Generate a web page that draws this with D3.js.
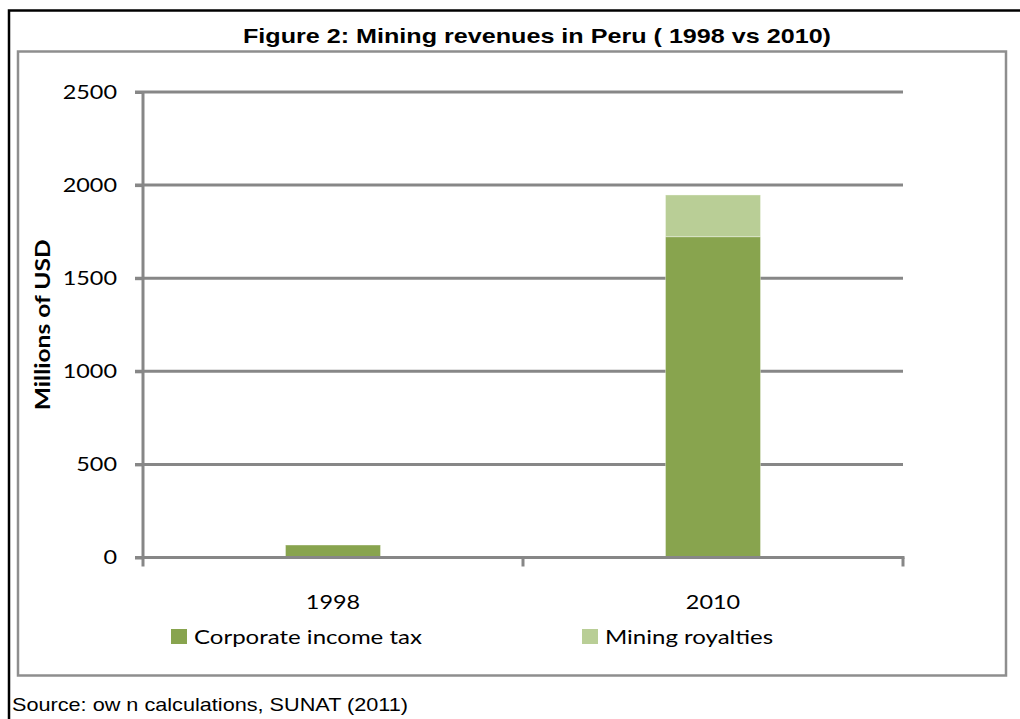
<!DOCTYPE html>
<html>
<head>
<meta charset="utf-8">
<script src="https://cdn.jsdelivr.net/npm/d3@7.9.0/dist/d3.min.js"></script>
<style>
  body { margin: 0; background: #fff; }
  svg { display: block; }
</style>
</head>
<body>
<div id="chart"></div>
<script>
// data (millions of USD)
const years = ["1998", "2010"];
const corporateIncomeTax = [67, 1723];
const miningRoyalties = [0, 224];
const seriesNames = ["Corporate income tax", "Mining royalties"];
const seriesColors = ["#88a44e", "#b9ce96"];
const yTicks = [0, 500, 1000, 1500, 2000, 2500];

const width = 1020;
const height = 719;

// plot area
const plot = { left: 143, right: 903, top: 92, bottom: 557.5 };

const svg = d3.select("#chart")
    .append("svg")
    .attr("width", width)
    .attr("height", height);

// widen text a bit, the original glyphs are wider than Lato's
function stretch(sel, factor) {
    sel.each(function () {
        const w = this.getComputedTextLength();
        d3.select(this)
            .attr("textLength", w * factor)
            .attr("lengthAdjust", "spacingAndGlyphs");
    });
}

// outer black frame
svg.append("rect")
    .attr("x", 9).attr("y", 10.5)
    .attr("width", width + 20).attr("height", height + 20)
    .attr("fill", "none")
    .attr("stroke", "#000")
    .attr("stroke-width", 2.5);

// chart area frame
svg.append("rect")
    .attr("x", 18).attr("y", 51.5)
    .attr("width", 988).attr("height", 624)
    .attr("fill", "#fff")
    .attr("stroke", "#8e8e8e")
    .attr("stroke-width", 2.5);

// title
svg.append("text")
    .attr("x", 537).attr("y", 43)
    .attr("text-anchor", "middle")
    .attr("font-family", "Liberation Sans, Arial, sans-serif")
    .attr("font-weight", "bold")
    .attr("font-size", 21)
    .attr("textLength", 588)
    .attr("lengthAdjust", "spacingAndGlyphs")
    .text("Figure 2: Mining revenues in Peru ( 1998 vs 2010)");

// scales
const x = d3.scaleBand()
    .domain(years)
    .range([plot.left, plot.right])
    .paddingInner(0.75)
    .paddingOuter(0.375);

const xCat = d3.scaleBand()
    .domain(years)
    .range([plot.left, plot.right]);

const y = d3.scaleLinear()
    .domain([0, 2500])
    .range([plot.bottom, plot.top]);

const gray = "#878787";

// gridlines
svg.append("g")
    .selectAll("line")
    .data(yTicks.filter(d => d > 0))
    .join("line")
    .attr("x1", plot.left - 8)
    .attr("x2", plot.right)
    .attr("y1", d => y(d))
    .attr("y2", d => y(d))
    .attr("stroke", gray)
    .attr("stroke-width", 3);

// stacked bars
const rows = years.map((yr, i) => ({ year: yr, cit: corporateIncomeTax[i], roy: miningRoyalties[i] }));
const stack = d3.stack().keys(["cit", "roy"])(rows);

svg.append("g")
    .selectAll("g")
    .data(stack)
    .join("g")
    .attr("fill", (d, i) => seriesColors[i])
    .selectAll("rect")
    .data(d => d.filter(v => v[1] > v[0]))
    .join("rect")
    .attr("x", d => x(d.data.year))
    .attr("width", x.bandwidth())
    .attr("y", d => y(d[1]))
    .attr("height", d => y(d[0]) - y(d[1]))
    .attr("stroke", "#ffffff")
    .attr("stroke-opacity", 0.35)
    .attr("stroke-width", 1);

// y axis
const yAxis = svg.append("g")
    .attr("transform", `translate(${plot.left},0)`)
    .call(d3.axisLeft(y).tickValues(yTicks).tickSize(8).tickPadding(18).tickFormat(d3.format("d")));
yAxis.select(".domain").attr("stroke", gray).attr("stroke-width", 3)
    .attr("d", `M0,${plot.top - 1}V${plot.bottom}`);
yAxis.selectAll(".tick line").attr("stroke", gray).attr("stroke-width", 3);
yAxis.selectAll(".tick text")
    .attr("font-family", "Lato, sans-serif")
    .attr("font-size", 20)
    .attr("fill", "#000")
    .call(stretch, 1.17);

// x axis
const xAxisG = svg.append("g")
    .attr("transform", `translate(0,${plot.bottom})`);
xAxisG.append("line")
    .attr("x1", plot.left - 8).attr("x2", plot.right + 1.5)
    .attr("stroke", gray).attr("stroke-width", 3);
const boundaries = years.map(d => xCat(d)).concat([plot.right]);
xAxisG.selectAll(".xtick")
    .data(boundaries)
    .join("line")
    .attr("class", "xtick")
    .attr("x1", d => d).attr("x2", d => d)
    .attr("y1", 0).attr("y2", 9)
    .attr("stroke", gray).attr("stroke-width", 3);
xAxisG.selectAll(".xlabel")
    .data(years)
    .join("text")
    .attr("class", "xlabel")
    .attr("x", d => xCat(d) + xCat.bandwidth() / 2)
    .attr("y", 51)
    .attr("text-anchor", "middle")
    .attr("font-family", "Lato, sans-serif")
    .attr("font-size", 20)
    .text(d => d)
    .call(stretch, 1.17);

// y axis title
svg.append("text")
    .attr("transform", `translate(50,${(plot.top + plot.bottom) / 2}) rotate(-90)`)
    .attr("text-anchor", "middle")
    .attr("font-family", "Lato, sans-serif")
    .attr("font-weight", "bold")
    .attr("font-size", 21)
    .text("Millions of USD")
    .call(stretch, 1.17);

// legend
const legendX = [171, 582];
const legend = svg.append("g")
    .selectAll("g")
    .data(seriesNames)
    .join("g")
    .attr("transform", (d, i) => `translate(${legendX[i]},629)`);
legend.append("rect")
    .attr("width", 16).attr("height", 15)
    .attr("fill", (d, i) => seriesColors[i]);
legend.append("text")
    .attr("x", 23).attr("y", 15)
    .attr("font-family", "Lato, sans-serif")
    .attr("font-size", 20)
    .text(d => d)
    .call(stretch, 1.2);

// source note
svg.append("text")
    .attr("x", 12).attr("y", 711)
    .attr("font-family", "Liberation Sans, Arial, sans-serif")
    .attr("font-size", 19)
    .attr("textLength", 396)
    .attr("lengthAdjust", "spacingAndGlyphs")
    .text("Source: ow n calculations, SUNAT (2011)");
</script>
</body>
</html>
